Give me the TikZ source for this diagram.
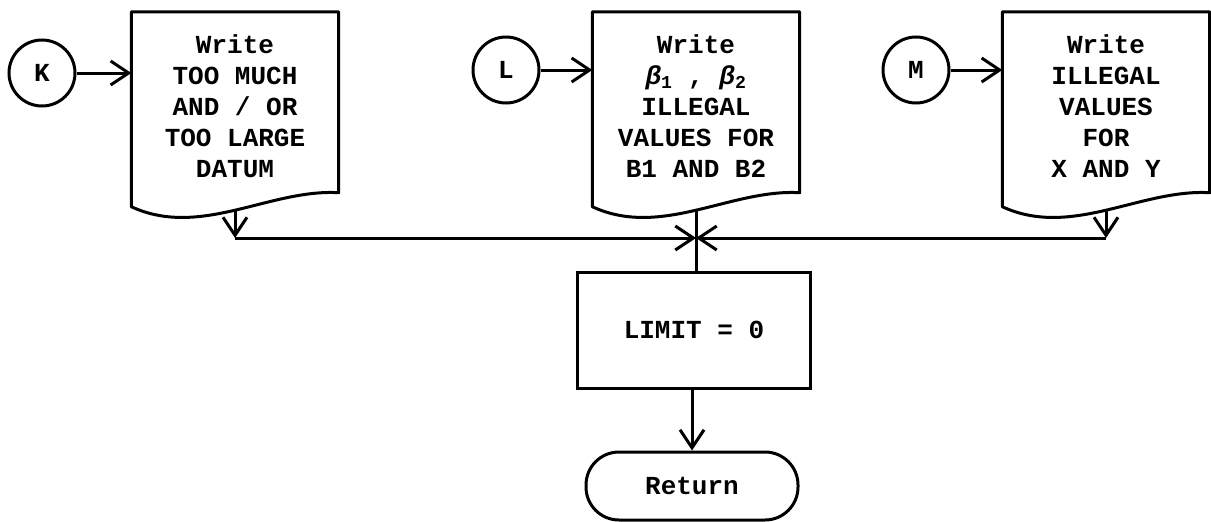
\documentclass[tikz,border=0pt]{standalone}
\usepackage{fontspec}
\setmonofont{Liberation Mono}
\usepackage{tikz}
\usetikzlibrary{positioning}
\usetikzlibrary{calc}
\usetikzlibrary{arrows.meta}

% printout symbol: flat top (10pt below the node's top), wavy bottom
\newcommand{\docout}[1]{%
\draw [line width=3pt, line join=round] ([yshift=3.5pt]#1.south west) -- ([yshift=-10pt]#1.north west) -- ([yshift=-10pt]#1.north east) -- ([yshift=17.5pt]#1.south east)
  .. controls ($(#1.south west)!0.667!(#1.south east)+(0pt,21.5pt)$) and ($(#1.south west)!0.333!(#1.south east)+(0pt,-28.5pt)$) .. ([yshift=3.5pt]#1.south west) -- cycle;}

\begin{document}
\begin{tikzpicture}[
  txt/.style={font=\fontsize{26pt}{31pt}\selectfont\ttfamily\bfseries},
  conn/.style={txt, circle, minimum size=66pt, inner sep=0pt, line width=3pt, draw=black},
  doc/.style={txt, minimum width=207pt, minimum height=208pt, inner sep=0pt, align=center},
  proc/.style={txt, minimum width=233pt, minimum height=116pt, line width=3pt, draw=black},
  term/.style={txt, minimum width=212pt, minimum height=68pt, rounded corners=33pt, line width=3pt, draw=black},
  flow/.style={line width=3pt, -{Straight Barb[length=18pt, width=24pt]}}
]
\useasboundingbox (0pt, 0pt) rectangle (1211pt, -522pt);

\node (k) [conn] at (42pt, -73pt) {K};
\node (l) [conn] at (506pt, -70pt) {L};
\node (m) [conn] at (916pt, -70pt) {M};

\node (wk) [doc] at (235pt, -106pt) {Write\\TOO MUCH\\AND / OR\\TOO LARGE\\DATUM};
\node (wl) [doc] at (696pt, -106pt) {Write\\\textit{β}\textsubscript{1} , \textit{β}\textsubscript{2}\\ILLEGAL\\VALUES FOR\\B1 AND B2};
\node (wm) [doc] at (1106pt, -106pt) {Write\\ILLEGAL\\VALUES\\FOR\\X AND Y};
\docout{wk}
\docout{wl}
\docout{wm}

\coordinate (jn) at (696pt, -238pt);
\node (lim) [proc] at (694pt, -330pt) {LIMIT = 0};
\node (ret) [term] at (692pt, -486pt) {Return};

\draw [flow] (k) to (k -| wk.west);
\draw [flow] (l) to (l -| wl.west);
\draw [flow] (m) to (m -| wm.west);
\draw [flow] (wk.south) to (wk.south |- jn);
\draw [flow] (wm.south) to (wm.south |- jn);
\draw [flow] (wk.south |- jn) to (jn);
\draw [flow] (wm.south |- jn) to (jn);
\draw [line width=3pt] (wl.south) to (wl.south |- lim.north);
\draw [flow] (lim.south -| ret.north) to (ret);
\end{tikzpicture}
\end{document}
